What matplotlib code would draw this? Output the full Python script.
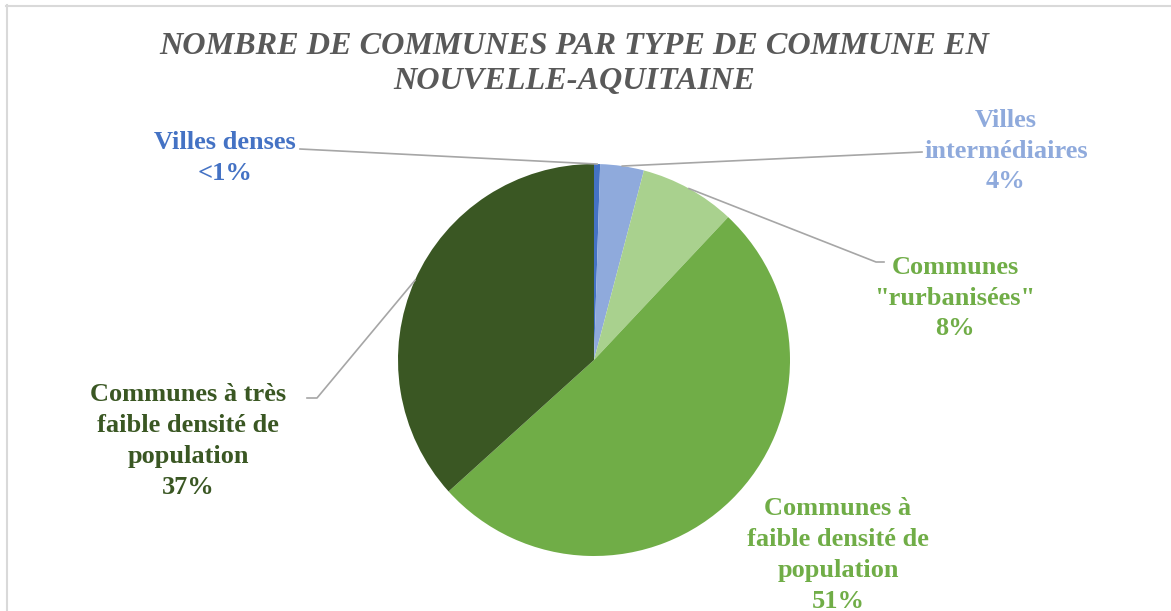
import matplotlib
matplotlib.use("Agg")
import matplotlib.pyplot as plt
import numpy as np
from matplotlib.lines import Line2D

W, H = 1171, 611

categories = ["Villes denses", "Villes intermédiaires", "Communes \"rurbanisées\"",
              "Communes à faible densité de population", "Communes à très faible densité de population"]
values = [0.5, 3.6, 7.9, 51.3, 36.7]
pct_labels = ["<1%", "4%", "8%", "51%", "37%"]
label_text = ["Villes denses", "Villes\nintermédiaires", "Communes\n\"rurbanisées\"",
              "Communes à\nfaible densité de\npopulation", "Communes à très\nfaible densité de\npopulation"]
colors = ["#4472C4", "#8FAADC", "#A9D18E", "#70AD47", "#3A5723"]
text_colors = ["#4472C4", "#8FAADC", "#70AD47", "#70AD47", "#3A5723"]

plt.rcParams['font.family'] = ['Liberation Serif', 'DejaVu Serif']

fig = plt.figure(figsize=(W / 100, H / 100), dpi=100)

def fx(x):
    return x / W

def fy(y):
    return 1 - y / H

# frame
fig.add_artist(Line2D([fx(6), 1], [fy(5.5), fy(5.5)], color="#D9D9D9", lw=1.5))
fig.add_artist(Line2D([fx(6.5), fx(6.5)], [fy(5), 0], color="#D9D9D9", lw=1.5))

fig.text(fx(574), fy(64), "NOMBRE DE COMMUNES PAR TYPE DE COMMUNE EN\nNOUVELLE-AQUITAINE",
         ha="center", va="center", fontsize=23.2, fontweight="bold", fontstyle="italic",
         color="#595959", linespacing=1.3)

cx, cy, r = 594, 360, 196
ax = fig.add_axes([fx(cx - r), fy(cy + r), 2 * r / W, 2 * r / H])
wedges, _ = ax.pie(values, colors=colors, startangle=90, counterclock=False,
                   radius=1, wedgeprops=dict(linewidth=0))
ax.set_xlim(-1, 1)
ax.set_ylim(-1, 1)
ax.axis("off")

# label layout: text centre (px from top-left), leader path from text side
text_pos = [(225, 158), (1006, 151), (955, 298), (838, 555), (188, 441)]
leader = [[(300, 149)], [(922, 152)], [(884, 262), (876, 262)], None, [(307, 398), (317, 398)]]

for i, w in enumerate(wedges):
    tx, ty = text_pos[i]
    fig.text(fx(tx), fy(ty), label_text[i] + "\n" + pct_labels[i], ha="center", va="center",
             fontsize=19, fontweight="bold", color=text_colors[i], linespacing=1.44)
    if leader[i] is None:
        continue
    ang = np.deg2rad((w.theta1 + w.theta2) / 2)
    ax_pt = ax.transData.transform((np.cos(ang), np.sin(ang)))
    pts = [(fx(x), fy(y)) for x, y in leader[i]]
    pts.append((ax_pt[0] / W, ax_pt[1] / H))
    xs, ys = zip(*pts)
    fig.add_artist(Line2D(xs, ys, color="#A6A6A6", lw=1.2))

fig.savefig("out.png", dpi=100)
